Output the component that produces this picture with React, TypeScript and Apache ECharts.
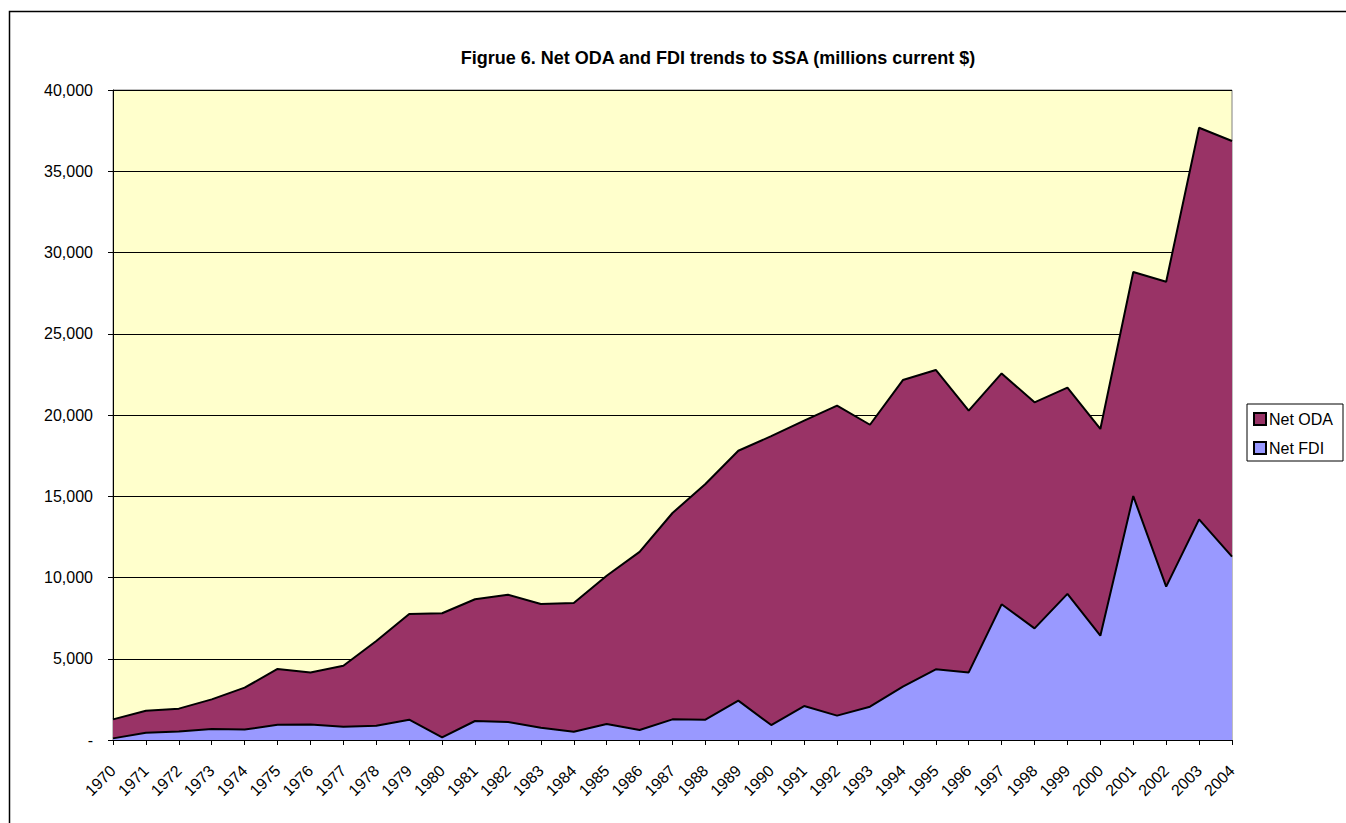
import React, { useEffect, useRef } from "react";
import * as echarts from "echarts";

const years = [
  "1970", "1971", "1972", "1973", "1974", "1975", "1976", "1977", "1978", "1979",
  "1980", "1981", "1982", "1983", "1984", "1985", "1986", "1987", "1988", "1989",
  "1990", "1991", "1992", "1993", "1994", "1995", "1996", "1997", "1998", "1999",
  "2000", "2001", "2002", "2003", "2004",
];

const netFDI = [
  100, 450, 530, 680, 640, 940, 960, 820, 880, 1250,
  160, 1170, 1110, 760, 510, 985, 615, 1270, 1250, 2420,
  920, 2090, 1500, 2050, 3280, 4350, 4160, 8350, 6870, 8990,
  6420, 15010, 9440, 13580, 11280,
];

const netODA = [
  1170, 1350, 1400, 1820, 2580, 3430, 3200, 3750, 5210, 6500,
  7640, 7490, 7830, 7610, 7920, 9120, 10960, 12700, 14500, 15380,
  17780, 17560, 19080, 17350, 18870, 18420, 16110, 14210, 13910, 12690,
  12720, 13790, 18760, 24100, 25580,
];

const titleText = "Figrue 6. Net ODA and FDI trends to SSA (millions current $)";

export default function App() {
  const ref = useRef<HTMLDivElement>(null);

  useEffect(() => {
    if (!ref.current) return;
    const chart = echarts.init(ref.current, undefined, { renderer: "svg" });
    const font = "Arial, 'Liberation Sans', sans-serif";
    chart.setOption({
      animation: false,
      backgroundColor: "#ffffff",
      textStyle: { fontFamily: font },
      title: {
        text: titleText,
        left: 713,
        top: 44,
        textAlign: "center",
        textStyle: { fontSize: 18, fontWeight: "bold", color: "#000", fontFamily: font },
      },
      graphic: [
        {
          type: "rect",
          shape: { x: 9.5, y: 11.5, width: 1400, height: 900 },
          style: { fill: "none", stroke: "#000", lineWidth: 1.5 },
          silent: true,
          z: 100,
        },
      ],
      legend: {
        orient: "vertical",
        left: 1247,
        top: 404,
        data: ["Net ODA", "Net FDI"],
        icon: "rect",
        itemWidth: 12,
        itemHeight: 12,
        itemGap: 13,
        padding: [7, 10, 5, 6],
        borderColor: "#000",
        borderWidth: 1,
        backgroundColor: "#fff",
        textStyle: { fontSize: 16, lineHeight: 16, color: "#000", fontFamily: font, padding: [0, 0, 0, -2] },
      },
      grid: {
        left: 113,
        top: 90,
        right: 114,
        bottom: 83,
        show: true,
        backgroundColor: "#FFFFCC",
        borderColor: "#808080",
        borderWidth: 1,
      },
      xAxis: {
        type: "category",
        data: years,
        boundaryGap: false,
        axisLine: { lineStyle: { color: "#000", width: 1 } },
        axisTick: { show: true, alignWithLabel: true, length: 5, lineStyle: { color: "#000" } },
        axisLabel: { rotate: 45, fontSize: 16, color: "#000", margin: 28, interval: 0, fontFamily: font },
        splitLine: { show: false },
      },
      yAxis: {
        type: "value",
        min: 0,
        max: 40000,
        interval: 5000,
        axisLine: { show: true, lineStyle: { color: "#000", width: 1 } },
        axisTick: { show: true, length: 5, lineStyle: { color: "#000" } },
        axisLabel: {
          fontSize: 16,
          color: "#000",
          margin: 20,
          fontFamily: font,
          formatter: (v: number) => (v === 0 ? "-" : v.toLocaleString("en-US")),
        },
        splitLine: { show: true, lineStyle: { color: "#000", width: 1 } },
      },
      series: [
        {
          name: "Net FDI",
          type: "line",
          stack: "total",
          data: netFDI,
          symbol: "none",
          lineStyle: { color: "#000", width: 2 },
          itemStyle: { color: "#9999FF", borderColor: "#000", borderWidth: 1 },
          areaStyle: { color: "#9999FF", opacity: 1 },
          z: 3,
        },
        {
          name: "Net ODA",
          type: "line",
          stack: "total",
          data: netODA,
          symbol: "none",
          lineStyle: { color: "#000", width: 2 },
          itemStyle: { color: "#993366", borderColor: "#000", borderWidth: 1 },
          areaStyle: { color: "#993366", opacity: 1 },
          z: 2,
        },
      ],
    });
    return () => chart.dispose();
  }, []);

  return (
    <div
      ref={ref}
      style={{ position: "absolute", left: 0, top: 0, width: 1346, height: 823 }}
    />
  );
}
